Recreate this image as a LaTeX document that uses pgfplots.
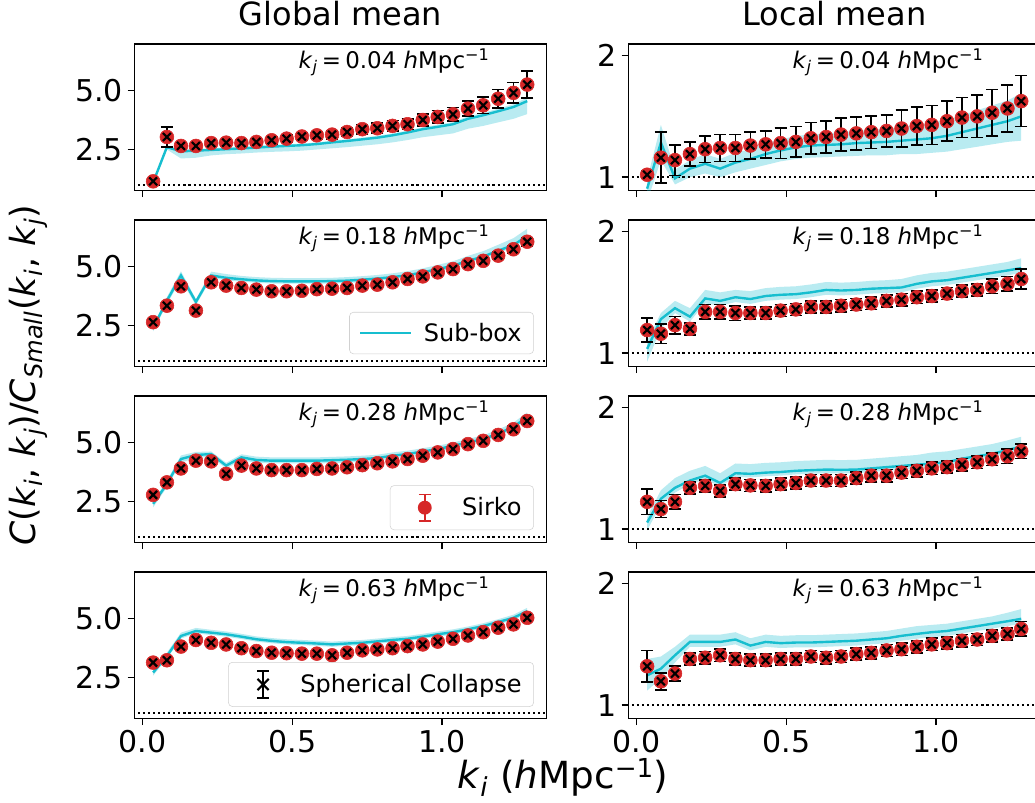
\documentclass[border=0pt]{standalone}
\usepackage{fontspec}
\setmainfont{DejaVu Sans}
\usepackage{pgfplots}
\usepackage{pgfplotstable}
\pgfplotsset{compat=1.18}
\usepgfplotslibrary{fillbetween}
\definecolor{tabred}{HTML}{D62728}
\definecolor{tabcyan}{HTML}{17BECF}

\pgfplotstableread{
x y e m lo hi
0.035 1.15 0.08 1.10 1.00 1.17
0.081 3.03 0.42 2.60 2.50 2.68
0.128 2.65 0.12 2.42 2.12 2.50
0.178 2.65 0.12 2.45 2.15 2.52
0.229 2.77 0.13 2.48 2.25 2.55
0.279 2.79 0.13 2.51 2.30 2.58
0.330 2.77 0.14 2.54 2.33 2.61
0.380 2.82 0.14 2.58 2.37 2.65
0.431 2.89 0.15 2.62 2.40 2.69
0.481 2.96 0.15 2.65 2.42 2.72
0.532 3.05 0.16 2.68 2.45 2.75
0.582 3.10 0.17 2.73 2.50 2.80
0.633 3.13 0.18 2.80 2.55 2.87
0.683 3.24 0.19 2.86 2.60 2.93
0.734 3.36 0.20 2.93 2.66 3.00
0.784 3.40 0.21 3.00 2.72 3.08
0.835 3.50 0.22 3.10 2.80 3.18
0.885 3.57 0.23 3.22 2.90 3.30
0.936 3.75 0.25 3.36 3.02 3.44
0.986 3.88 0.27 3.46 3.10 3.55
1.037 3.99 0.29 3.57 3.18 3.66
1.087 4.23 0.32 3.80 3.38 3.90
1.138 4.37 0.35 3.95 3.50 4.05
1.188 4.65 0.39 4.12 3.65 4.23
1.239 4.90 0.44 4.30 3.80 4.42
1.285 5.25 0.58 4.55 4.00 4.70
}\tAL

\pgfplotstableread{
x y e m lo hi
0.035 1.02 0.03 0.905 0.80 0.98
0.081 1.16 0.21 1.285 1.14 1.43
0.128 1.14 0.125 0.99 0.94 1.06
0.178 1.19 0.10 1.07 1.00 1.14
0.229 1.23 0.11 1.11 1.03 1.19
0.279 1.24 0.11 1.07 1.00 1.15
0.330 1.24 0.11 1.12 1.04 1.20
0.380 1.26 0.11 1.15 1.07 1.23
0.431 1.27 0.11 1.19 1.10 1.28
0.481 1.28 0.125 1.22 1.13 1.31
0.532 1.29 0.125 1.245 1.15 1.34
0.582 1.32 0.13 1.26 1.16 1.35
0.633 1.33 0.13 1.265 1.165 1.36
0.683 1.35 0.135 1.27 1.17 1.37
0.734 1.36 0.135 1.28 1.175 1.38
0.784 1.37 0.135 1.285 1.18 1.39
0.835 1.38 0.13 1.29 1.18 1.40
0.885 1.40 0.15 1.30 1.19 1.41
0.936 1.42 0.155 1.31 1.19 1.43
0.986 1.43 0.16 1.32 1.20 1.45
1.037 1.46 0.165 1.34 1.21 1.47
1.087 1.49 0.165 1.37 1.23 1.51
1.138 1.50 0.175 1.40 1.25 1.55
1.188 1.53 0.19 1.43 1.27 1.59
1.239 1.565 0.195 1.46 1.29 1.63
1.285 1.625 0.21 1.50 1.30 1.69
}\tAR

\pgfplotstableread{
x y e m lo hi
0.035 2.64 0.10 2.40 2.25 2.50
0.081 3.34 0.10 3.55 3.40 3.70
0.128 4.16 0.10 4.62 4.45 4.80
0.178 3.13 0.10 3.50 3.35 3.62
0.229 4.33 0.10 4.62 4.50 4.78
0.279 4.19 0.10 4.52 4.42 4.68
0.330 4.09 0.10 4.46 4.36 4.60
0.380 4.02 0.10 4.41 4.31 4.55
0.431 3.95 0.10 4.38 4.28 4.52
0.481 3.95 0.10 4.37 4.27 4.51
0.532 3.97 0.10 4.37 4.27 4.51
0.582 4.04 0.10 4.37 4.27 4.51
0.633 4.06 0.10 4.38 4.28 4.52
0.683 4.09 0.11 4.40 4.30 4.55
0.734 4.19 0.11 4.44 4.34 4.59
0.784 4.23 0.11 4.49 4.39 4.64
0.835 4.33 0.12 4.55 4.45 4.71
0.885 4.47 0.12 4.63 4.53 4.80
0.936 4.58 0.12 4.75 4.65 4.92
0.986 4.75 0.13 4.89 4.79 5.07
1.037 4.89 0.13 5.03 4.93 5.22
1.087 5.10 0.14 5.24 5.14 5.45
1.138 5.24 0.14 5.42 5.32 5.65
1.188 5.46 0.15 5.67 5.56 5.92
1.239 5.73 0.16 5.91 5.80 6.20
1.285 6.05 0.18 6.29 6.18 6.60
}\tBL

\pgfplotstableread{
x y e m lo hi
0.035 1.19 0.10 1.035 0.93 1.10
0.081 1.16 0.08 1.28 1.20 1.33
0.128 1.23 0.07 1.37 1.33 1.43
0.178 1.20 0.05 1.30 1.26 1.37
0.229 1.34 0.06 1.45 1.41 1.52
0.279 1.34 0.06 1.43 1.39 1.50
0.330 1.33 0.06 1.46 1.42 1.52
0.380 1.33 0.05 1.445 1.405 1.51
0.431 1.33 0.05 1.47 1.43 1.535
0.481 1.35 0.05 1.48 1.44 1.545
0.532 1.36 0.05 1.485 1.445 1.55
0.582 1.38 0.05 1.50 1.46 1.565
0.633 1.38 0.05 1.52 1.48 1.585
0.683 1.39 0.05 1.515 1.475 1.58
0.734 1.40 0.05 1.52 1.48 1.585
0.784 1.41 0.05 1.53 1.49 1.595
0.835 1.43 0.05 1.535 1.495 1.60
0.885 1.44 0.05 1.54 1.50 1.61
0.936 1.46 0.05 1.57 1.53 1.64
0.986 1.47 0.05 1.59 1.55 1.66
1.037 1.49 0.05 1.60 1.56 1.67
1.087 1.51 0.05 1.62 1.58 1.69
1.138 1.52 0.05 1.64 1.60 1.71
1.188 1.55 0.06 1.66 1.62 1.73
1.239 1.57 0.06 1.68 1.64 1.75
1.285 1.61 0.08 1.70 1.66 1.78
}\tBR

\pgfplotstableread{
x y e m lo hi
0.035 2.78 0.08 2.40 2.25 2.52
0.081 3.31 0.08 3.24 3.10 3.38
0.128 3.90 0.08 4.30 4.15 4.45
0.178 4.23 0.08 4.47 4.35 4.60
0.229 4.20 0.08 4.51 4.39 4.62
0.279 3.67 0.08 4.02 3.90 4.14
0.330 4.02 0.08 4.37 4.25 4.50
0.380 3.90 0.08 4.26 4.14 4.40
0.431 3.83 0.08 4.23 4.11 4.37
0.481 3.83 0.08 4.23 4.11 4.37
0.532 3.83 0.08 4.23 4.11 4.37
0.582 3.88 0.08 4.23 4.11 4.37
0.633 3.90 0.09 4.25 4.13 4.39
0.683 3.95 0.09 4.27 4.15 4.41
0.734 4.04 0.09 4.30 4.18 4.44
0.784 4.12 0.09 4.34 4.22 4.48
0.835 4.20 0.10 4.44 4.32 4.58
0.885 4.30 0.10 4.51 4.39 4.65
0.936 4.44 0.10 4.62 4.50 4.76
0.986 4.58 0.11 4.72 4.60 4.86
1.037 4.72 0.11 4.86 4.74 5.00
1.087 4.93 0.12 5.00 4.88 5.15
1.138 5.07 0.12 5.14 5.02 5.30
1.188 5.32 0.13 5.38 5.26 5.55
1.239 5.56 0.14 5.66 5.54 5.84
1.285 5.91 0.15 6.08 5.96 6.28
}\tCL

\pgfplotstableread{
x y e m lo hi
0.035 1.225 0.105 1.055 0.99 1.10
0.081 1.165 0.07 1.25 1.20 1.32
0.128 1.225 0.06 1.34 1.30 1.42
0.178 1.34 0.05 1.40 1.37 1.48
0.229 1.356 0.05 1.44 1.41 1.52
0.279 1.315 0.05 1.38 1.35 1.46
0.330 1.37 0.05 1.46 1.43 1.54
0.380 1.36 0.05 1.455 1.425 1.535
0.431 1.356 0.05 1.465 1.435 1.545
0.481 1.37 0.05 1.47 1.44 1.55
0.532 1.38 0.05 1.48 1.45 1.56
0.582 1.40 0.05 1.485 1.455 1.565
0.633 1.40 0.05 1.49 1.46 1.57
0.683 1.40 0.05 1.488 1.458 1.568
0.734 1.42 0.05 1.49 1.46 1.57
0.784 1.44 0.05 1.50 1.47 1.58
0.835 1.44 0.05 1.51 1.48 1.59
0.885 1.465 0.05 1.52 1.49 1.60
0.936 1.48 0.05 1.53 1.50 1.61
0.986 1.50 0.05 1.54 1.51 1.63
1.037 1.51 0.05 1.55 1.52 1.64
1.087 1.53 0.05 1.58 1.55 1.66
1.138 1.55 0.05 1.60 1.57 1.68
1.188 1.575 0.05 1.62 1.59 1.70
1.239 1.60 0.06 1.65 1.62 1.73
1.285 1.64 0.06 1.68 1.65 1.76
}\tCR

\pgfplotstableread{
x y e m lo hi
0.035 3.13 0.08 2.71 2.58 2.85
0.081 3.23 0.08 3.41 3.30 3.55
0.128 3.81 0.08 4.26 4.15 4.40
0.178 4.09 0.08 4.47 4.37 4.60
0.229 3.97 0.08 4.40 4.30 4.52
0.279 3.90 0.08 4.33 4.23 4.45
0.330 3.74 0.08 4.23 4.13 4.35
0.380 3.62 0.08 4.12 4.02 4.24
0.431 3.55 0.08 4.05 3.95 4.17
0.481 3.53 0.08 4.00 3.90 4.12
0.532 3.51 0.08 3.97 3.87 4.09
0.582 3.51 0.08 3.94 3.84 4.06
0.633 3.44 0.08 3.90 3.80 4.02
0.683 3.55 0.08 3.94 3.84 4.06
0.734 3.65 0.08 3.97 3.87 4.09
0.784 3.69 0.08 4.03 3.93 4.15
0.835 3.74 0.09 4.09 3.99 4.21
0.885 3.83 0.09 4.14 4.04 4.26
0.936 3.90 0.09 4.23 4.13 4.35
0.986 4.02 0.09 4.33 4.23 4.45
1.037 4.14 0.10 4.42 4.32 4.54
1.087 4.28 0.10 4.54 4.44 4.66
1.138 4.42 0.10 4.68 4.58 4.80
1.188 4.61 0.11 4.85 4.75 4.97
1.239 4.75 0.11 5.03 4.93 5.16
1.285 5.03 0.12 5.31 5.20 5.45
}\tDL

\pgfplotstableread{
x y e m lo hi
0.035 1.32 0.13 1.245 1.12 1.38
0.081 1.196 0.07 1.30 1.22 1.40
0.128 1.26 0.06 1.41 1.35 1.48
0.178 1.38 0.05 1.52 1.48 1.58
0.229 1.39 0.05 1.52 1.48 1.58
0.279 1.41 0.05 1.52 1.48 1.58
0.330 1.38 0.05 1.54 1.50 1.60
0.380 1.37 0.05 1.49 1.45 1.55
0.431 1.37 0.05 1.52 1.48 1.58
0.481 1.38 0.05 1.51 1.47 1.57
0.532 1.38 0.05 1.515 1.475 1.575
0.582 1.40 0.05 1.515 1.475 1.575
0.633 1.39 0.05 1.52 1.48 1.58
0.683 1.40 0.05 1.525 1.485 1.585
0.734 1.42 0.05 1.53 1.49 1.59
0.784 1.43 0.05 1.54 1.50 1.60
0.835 1.45 0.05 1.55 1.51 1.61
0.885 1.46 0.05 1.57 1.53 1.63
0.936 1.48 0.05 1.586 1.546 1.65
0.986 1.50 0.05 1.60 1.56 1.66
1.037 1.51 0.05 1.61 1.57 1.67
1.087 1.53 0.05 1.63 1.59 1.69
1.138 1.54 0.05 1.65 1.61 1.71
1.188 1.57 0.05 1.67 1.63 1.73
1.239 1.586 0.05 1.69 1.65 1.76
1.285 1.627 0.06 1.71 1.67 1.79
}\tDR

\newcommand\kj[1]{\textit{k}\textsubscript{\textit{j}}\hspace{0.18em}=\hspace{0.18em}#1 \textit{h}Mpc\textsuperscript{\char"2212 1}}

\newcommand\panel[1]{%
  \addplot[black, line width=1.6pt, dash pattern=on 1.6pt off 2.2pt, forget plot] coordinates {(-0.05,1) (1.4,1)};
  \addplot[name path=hi, draw=none, forget plot] table[x=x,y=hi]{#1};
  \addplot[name path=lo, draw=none, forget plot] table[x=x,y=lo]{#1};
  \addplot[fill=tabcyan, fill opacity=0.3, draw=none, forget plot] fill between[of=hi and lo];
  \addplot[tabcyan, line width=1.8pt, forget plot] table[x=x,y=m]{#1};
  \addplot[only marks, mark=*, mark options={fill=tabred, draw=tabred}, color=tabred, mark size=5.2pt, forget plot,
     error bars/.cd, y dir=both, y explicit, error mark=|,
     error bar style={tabred, line width=1.2pt},
     error mark options={tabred, line width=1.2pt, mark size=4.5pt}]
     table[x=x,y=y,y error=e]{#1};
  \addplot[only marks, mark=x, black, mark size=4.2pt, mark options={line width=1.6pt}, forget plot,
     error bars/.cd, y dir=both, y explicit, error mark=|,
     error bar style={black, line width=1.2pt},
     error mark options={black, line width=1.2pt, mark size=4.5pt}]
     table[x=x,y=y,y error=e]{#1};
}

\tikzset{kjs/.style={font=\fontsize{17.2}{21}\selectfont}}

\pgfplotsset{
  base/.style={scale only axis, width=309.3pt, height=109.9pt, anchor=north west,
    xmin=-0.028, xmax=1.35, xtick={0,0.5,1}, minor tick num=0,
    axis line style={black, line width=1.1pt}, every tick/.style={black, line width=1.1pt},
    major tick length=5pt, tick align=outside, xtick pos=bottom, ytick pos=left,
    tick label style={font=\fontsize{22.5}{27}\selectfont},
    /pgf/number format/assume math mode=true,
    title style={font=\fontsize{24}{29}\selectfont, at={(0.5,1)}, anchor=base, yshift=8pt},
    legend style={draw=black!18, rounded corners=3pt, fill=white, fill opacity=0.8, text opacity=1,
      font=\fontsize{18}{22}\selectfont, inner xsep=7pt, inner ysep=6pt, anchor=south east,
      /tikz/every odd column/.append style={column sep=7pt}},
    legend cell align=left},
  L/.style={base, ymin=0.76, ymax=6.97, ytick={2.5,5},
    yticklabel style={/pgf/number format/.cd, fixed, fixed zerofill, precision=1}},
  R/.style={base, ymin=0.89, ymax=2.095, ytick={1,2}},
  noxl/.style={xticklabels={,,}},
  xl/.style={xticklabel style={/pgf/number format/.cd, fixed, fixed zerofill, precision=1}},
}

\begin{document}
\begin{tikzpicture}

% Row 1
\begin{axis}[L, noxl, at={(100.7pt,-33pt)}, title={Global mean}]
  \panel{\tAL}
  \node[kjs] at (rel axis cs:0.63,0.875) {\kj{0.04}};
\end{axis}
\begin{axis}[R, noxl, at={(471.2pt,-33pt)}, title={Local mean}]
  \panel{\tAR}
  \node[kjs] at (rel axis cs:0.63,0.875) {\kj{0.04}};
\end{axis}

% Row 2
\begin{axis}[L, noxl, at={(100.7pt,-165pt)}, legend style={at={(0.969,0.085)}}]
  \addlegendimage{legend image code/.code={\draw[tabcyan, line width=1.8pt, draw opacity=1] (0pt,0pt) -- (38pt,0pt);}}
  \addlegendentry{Sub-box}
  \panel{\tBL}
  \node[kjs] at (rel axis cs:0.63,0.875) {\kj{0.18}};
\end{axis}
\begin{axis}[R, noxl, at={(471.2pt,-165pt)}]
  \panel{\tBR}
  \node[kjs] at (rel axis cs:0.63,0.875) {\kj{0.18}};
\end{axis}

% Row 3
\begin{axis}[L, noxl, at={(100.7pt,-297pt)}, legend style={at={(0.969,0.085)}}]
  \addlegendimage{legend image code/.code={%
     \path[draw=none, fill=none] (0pt,0pt) -- (38pt,0pt);
     \draw[tabred, line width=1.2pt, draw opacity=1] (19pt,-10pt) -- (19pt,10pt) (14.5pt,-10pt) -- (23.5pt,-10pt) (14.5pt,10pt) -- (23.5pt,10pt);
     \fill[tabred, draw=none, fill opacity=1] (19pt,0pt) circle (5.2pt);}}
  \addlegendentry{Sirko}
  \panel{\tCL}
  \node[kjs] at (rel axis cs:0.63,0.875) {\kj{0.28}};
\end{axis}
\begin{axis}[R, noxl, at={(471.2pt,-297pt)}]
  \panel{\tCR}
  \node[kjs] at (rel axis cs:0.63,0.875) {\kj{0.28}};
\end{axis}

% Row 4
\begin{axis}[L, xl, at={(100.7pt,-429pt)}, legend style={at={(0.969,0.08)}}]
  \addlegendimage{legend image code/.code={%
     \path[draw=none, fill=none] (0pt,0pt) -- (38pt,0pt);
     \draw[black, line width=1.2pt, draw opacity=1] (19pt,-10pt) -- (19pt,10pt) (14.5pt,-10pt) -- (23.5pt,-10pt) (14.5pt,10pt) -- (23.5pt,10pt);
     \draw[black, line width=1.6pt, draw opacity=1] (14.8pt,-4.2pt) -- (23.2pt,4.2pt) (14.8pt,4.2pt) -- (23.2pt,-4.2pt);}}
  \addlegendentry{Spherical Collapse}
  \panel{\tDL}
  \node[kjs] at (rel axis cs:0.63,0.875) {\kj{0.63}};
\end{axis}
\begin{axis}[R, xl, at={(471.2pt,-429pt)}]
  \panel{\tDR}
  \node[kjs] at (rel axis cs:0.63,0.875) {\kj{0.63}};
\end{axis}

\node[rotate=90, inner sep=0pt, font=\fontsize{26}{31}\selectfont] at (21.5pt,-281.25pt)
  {\textit{C}(\textit{k}\textsubscript{\textit{i}}, \textit{k}\textsubscript{\textit{j}})/\textit{C}\textsubscript{\textit{Small}}(\textit{k}\textsubscript{\textit{i}}, \textit{k}\textsubscript{\textit{j}})};
\node[inner sep=0pt, font=\fontsize{28}{32}\selectfont, anchor=base] at (422pt,-591pt)
  {\textit{k}\textsubscript{\textit{i}} (\textit{h}Mpc\raisebox{0.27em}{\fontsize{19.6}{20}\selectfont\char"2212 1})};

\pgfresetboundingbox
\path[use as bounding box] (0,0) rectangle (776.25pt,-602.25pt);
\end{tikzpicture}
\end{document}
